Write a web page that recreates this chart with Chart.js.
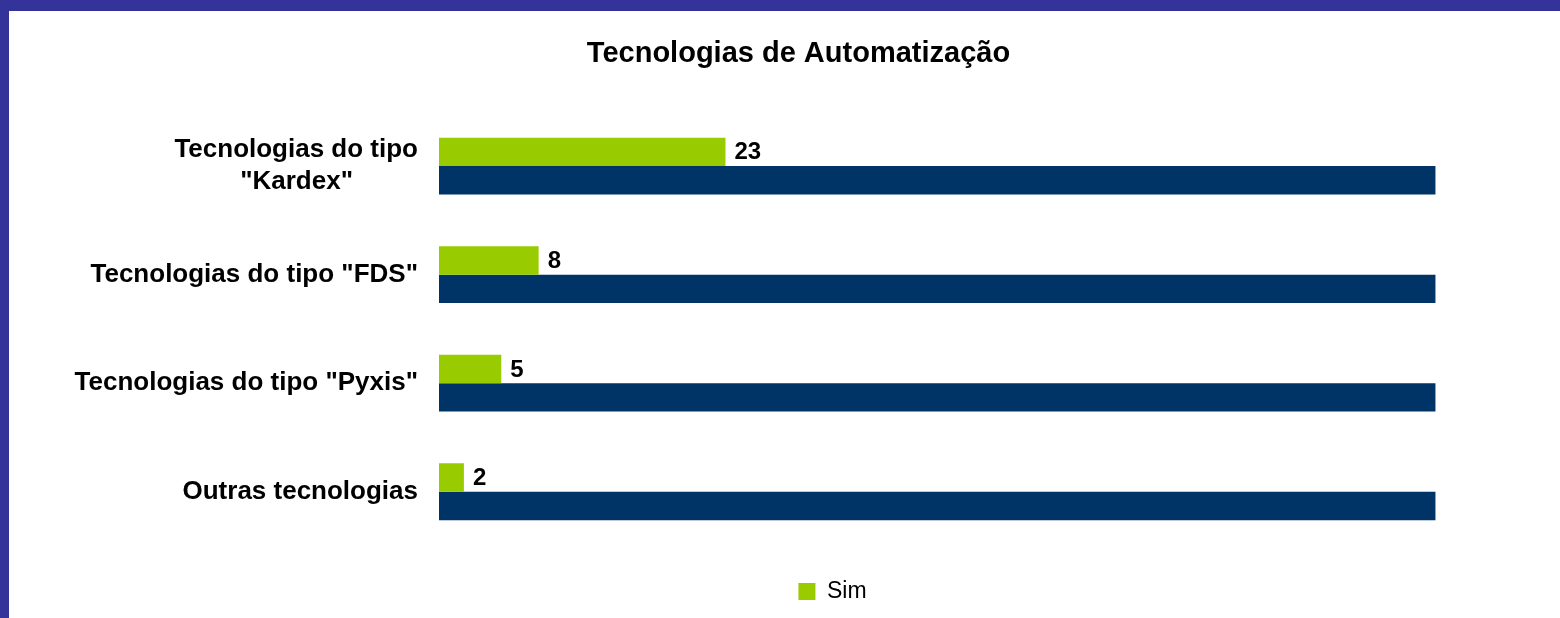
<!DOCTYPE html>
<html>
<head>
<meta charset="utf-8">
<script src="https://cdn.jsdelivr.net/npm/chart.js@4"></script>
<style>
    html, body { margin: 0; padding: 0; }
    body { width: 1560px; height: 618px; background: #333399; position: relative; overflow: hidden; }
    .container { position: absolute; left: 9px; top: 11px; width: 1551px; height: 607px; background: #ffffff; }
</style>
</head>
<body>
<div class="container">
    <canvas id="techChart"></canvas>
</div>
<script>
const categories = [
    ['Tecnologias do tipo', '"Kardex"'],
    'Tecnologias do tipo "FDS"',
    'Tecnologias do tipo "Pyxis"',
    'Outras tecnologias'
];
const simValues = [23, 8, 5, 2];
const totalValues = [80, 80, 80, 80];
const seriesNames = ['Sim', 'Total'];

const fontFamily = '"Liberation Sans", Arial, sans-serif';

document.addEventListener('DOMContentLoaded', function() {
    const ctx = document.getElementById('techChart').getContext('2d');
    const measureCtx = document.createElement('canvas').getContext('2d');

    // centra as linhas de um rótulo de várias linhas (como no Excel)
    function centerLines(lines) {
        if (!Array.isArray(lines)) return lines;
        measureCtx.font = 'bold 26px ' + fontFamily;
        const widest = Math.max(...lines.map(l => measureCtx.measureText(l).width));
        const space = measureCtx.measureText(' ').width;
        return lines.map(l => l + ' '.repeat(Math.round((widest - measureCtx.measureText(l).width) / 2 / space)));
    }

    // rótulos de valor à direita das barras verdes
    const valueLabels = {
        id: 'valueLabels',
        afterDatasetsDraw(chart) {
            const meta = chart.getDatasetMeta(0);
            const c = chart.ctx;
            c.save();
            c.font = 'bold 24px ' + fontFamily;
            c.fillStyle = '#000000';
            c.textAlign = 'left';
            c.textBaseline = 'middle';
            meta.data.forEach((bar, i) => {
                c.fillText(String(simValues[i]), bar.x + 9, bar.y + 1);
            });
            c.restore();
        }
    };

    // desloca a legenda para a direita, como no original
    const legendShift = {
        id: 'legendShift',
        afterLayout(chart) {
            chart.legend.left += 34;
            chart.legend.right += 34;
        }
    };

    new Chart(ctx, {
        type: 'bar',
        data: {
            labels: categories,
            datasets: [
                {
                    label: seriesNames[0],
                    data: simValues,
                    backgroundColor: '#99CC00',
                    borderWidth: 0
                },
                {
                    label: seriesNames[1],
                    data: totalValues,
                    backgroundColor: '#003366',
                    borderWidth: 0
                }
            ]
        },
        options: {
            indexAxis: 'y',
            responsive: true,
            maintainAspectRatio: false,
            animation: false,
            layout: { padding: { left: 28, right: 0, top: 0, bottom: 5 } },
            datasets: {
                bar: { categoryPercentage: 0.524, barPercentage: 1 }
            },
            scales: {
                x: {
                    display: false,
                    min: 0,
                    max: 90
                },
                y: {
                    grid: { display: false, drawTicks: false },
                    border: { display: false },
                    ticks: {
                        padding: 21,
                        color: '#000000',
                        font: { family: fontFamily, size: 26, weight: 'bold', lineHeight: 1.25 },
                        callback: function(value, index) {
                            return centerLines(categories[index]);
                        }
                    },
                    afterFit: function(scale) {
                        scale.width = 402;
                    }
                }
            },
            plugins: {
                title: {
                    display: true,
                    text: 'Tecnologias de Automatização',
                    color: '#000000',
                    font: { family: fontFamily, size: 29, weight: 'bold', lineHeight: 1.2 },
                    padding: { top: 26, bottom: 40 }
                },
                legend: {
                    position: 'bottom',
                    labels: {
                        filter: item => item.datasetIndex === 0,
                        boxWidth: 17,
                        boxHeight: 17,
                        padding: 34,
                        color: '#000000',
                        font: { family: fontFamily, size: 23 }
                    }
                },
                tooltip: { enabled: false }
            }
        },
        plugins: [valueLabels, legendShift]
    });
});
</script>
</body>
</html>
